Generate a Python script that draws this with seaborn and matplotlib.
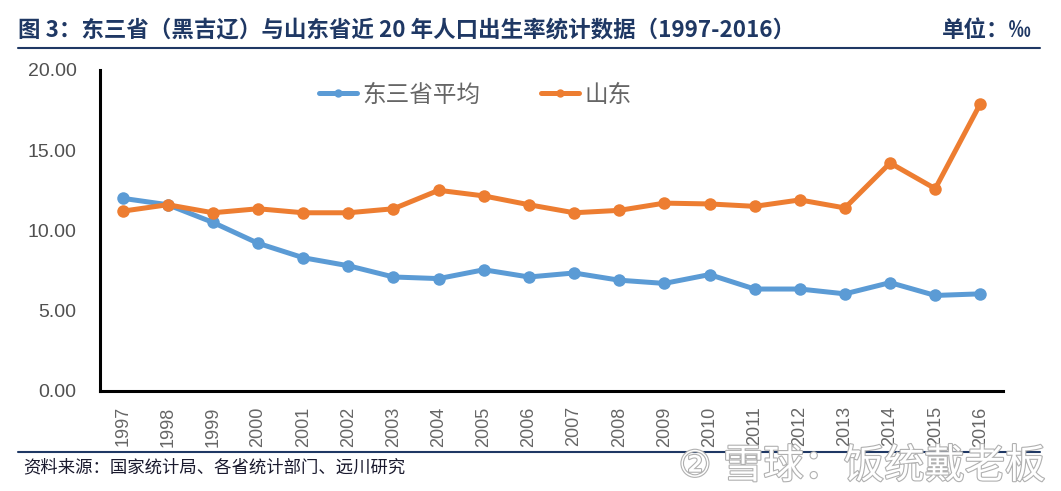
import pandas as pd
import numpy as np
import matplotlib
matplotlib.use("Agg")
import matplotlib.pyplot as plt
import matplotlib.patheffects as pe
import seaborn as sns
from matplotlib.lines import Line2D

# 数据
years = [str(y) for y in range(1997, 2017)]
dongsansheng = [12.0, 11.6, 10.5, 9.2, 8.3, 7.8, 7.1, 7.0, 7.55, 7.1,
                7.35, 6.9, 6.7, 7.25, 6.35, 6.35, 6.05, 6.75, 5.95, 6.05]
shandong = [11.2, 11.6, 11.1, 11.35, 11.1, 11.1, 11.35, 12.5, 12.15, 11.6,
            11.1, 11.25, 11.7, 11.65, 11.5, 11.9, 11.4, 14.2, 12.6, 17.9]
series_names = ["东三省平均", "山东"]
yticks = [0, 5, 10, 15, 20]

title = "图 3：东三省（黑吉辽）与山东省近 20 年人口出生率统计数据（1997-2016）"
unit = "单位：‰"
source = "资料来源：国家统计局、各省统计部门、远川研究"
watermark = "雪球：饭统戴老板"

sns.set_theme(style="white")
plt.rcParams["font.family"] = ["Noto Sans CJK SC", "DejaVu Sans"]
plt.rcParams["axes.unicode_minus"] = False

df = pd.DataFrame({"year": years * 2,
                   "idx": list(range(len(years))) * 2,
                   "value": dongsansheng + shandong,
                   "series": [series_names[0]] * len(years) + [series_names[1]] * len(years)})

fig = plt.figure(figsize=(10.61, 4.91), dpi=100)
ax = fig.add_axes([0.0943, 0.2037, 0.851, 0.654])

palette = {series_names[0]: "#5B9BD5", series_names[1]: "#ED7D31"}
sns.lineplot(data=df, x="idx", y="value", hue="series", palette=palette,
             marker="o", markersize=9, markeredgewidth=0, linewidth=3.6,
             ax=ax, legend=False)

ax.set_xlim(-0.5, len(years) - 0.5)
ax.set_ylim(0, 20)
ax.set_yticks(yticks)
ax.set_yticklabels([f"{v:.2f}" for v in yticks], fontsize=14, color="#505050",
                   family=["Liberation Sans", "DejaVu Sans"])
ax.set_xticks(range(len(years)))
ax.set_xticklabels(years, rotation=90, fontsize=13, color="#666666",
                   family=["Liberation Sans", "DejaVu Sans"])
ax.tick_params(axis="x", length=0, pad=11)
ax.tick_params(axis="y", length=0, pad=17)
ax.set_xlabel("")
ax.set_ylabel("")
for s in ["top", "right"]:
    ax.spines[s].set_visible(False)
for s in ["left", "bottom"]:
    ax.spines[s].set_color("black")
    ax.spines[s].set_linewidth(2.2)

handles = [Line2D([0], [0], color=palette[n], lw=3.6, marker="o", markersize=6,
                  markeredgewidth=0) for n in series_names]
fig.legend(handles, series_names, loc="center", bbox_to_anchor=(0.448, 0.806),
           ncol=2, frameon=False, fontsize=17, handlelength=1.6,
           handletextpad=0.2, columnspacing=2.6, labelcolor="#666666")

navy = "#1F3864"
fig.text(0.017, 0.938, title, fontsize=16.2, fontweight="bold", color=navy,
         va="center", ha="left")
fig.text(0.972, 0.938, unit, fontsize=16.2, fontweight="bold", color=navy,
         va="center", ha="right")
fig.add_artist(Line2D([0.017, 0.98], [0.903, 0.903], color=navy, lw=1.5))
fig.add_artist(Line2D([0.017, 0.98], [0.079, 0.079], color=navy, lw=1.5))
fig.text(0.022, 0.048, source, fontsize=12.5, color="#1a1a2e", va="center", ha="left")
fig.text(0.985, 0.05, watermark, fontsize=29, color="white", va="center",
         ha="right",
         path_effects=[pe.withStroke(linewidth=1.6, foreground="#b0b0b0")])
fig.text(0.655, 0.05, "②", fontsize=26, color="white", va="center", ha="center",
         family=["DejaVu Sans"],
         path_effects=[pe.withStroke(linewidth=1.6, foreground="#b0b0b0")])

fig.savefig("out.png", dpi=100)
